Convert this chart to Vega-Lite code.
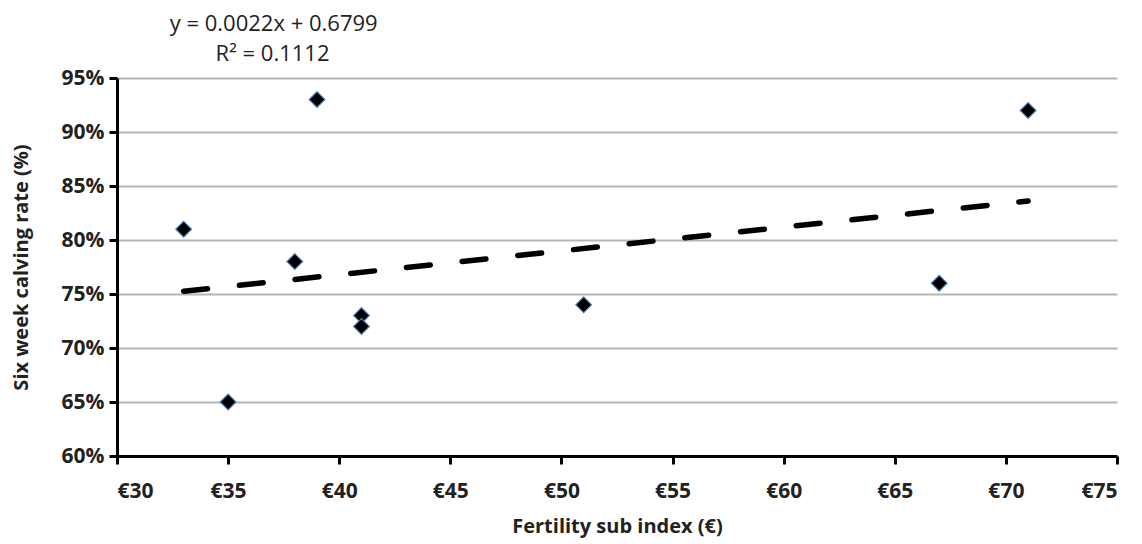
{
  "$schema": "https://vega.github.io/schema/vega-lite/v6.json",
  "width": 1000,
  "height": 378,
  "autosize": "none",
  "padding": {"left": 117, "top": 78, "right": 25, "bottom": 88},
  "background": "white",
  "config": {
    "view": {"stroke": null},
    "font": "Open Sans",
    "axis": {
      "labelFont": "Open Sans",
      "titleFont": "Open Sans",
      "labelFontWeight": "bold",
      "titleFontWeight": "bold",
      "labelFontSize": 21,
      "titleFontSize": 20,
      "labelColor": "#222",
      "titleColor": "#222",
      "domainColor": "black",
      "domainWidth": 3,
      "tickColor": "black",
      "tickWidth": 3,
      "tickSize": 8
    }
  },
  "datasets": {
    "points": [
      {"index": 33, "rate": 0.81},
      {"index": 35, "rate": 0.65},
      {"index": 38, "rate": 0.78},
      {"index": 39, "rate": 0.93},
      {"index": 41, "rate": 0.73},
      {"index": 41, "rate": 0.72},
      {"index": 51, "rate": 0.74},
      {"index": 67, "rate": 0.76},
      {"index": 71, "rate": 0.92}
    ],
    "trend": [
      {"index": 33, "rate": 0.7525},
      {"index": 71, "rate": 0.8361}
    ],
    "labels": [
      {"index": 37.05, "rate": 1.0, "text": "y = 0.0022x + 0.6799"},
      {"index": 37.0, "rate": 0.9725, "text": "R² = 0.1112"}
    ]
  },
  "layer": [
    {
      "data": {"name": "trend"},
      "mark": {"type": "line", "color": "black", "strokeWidth": 5.5, "strokeDash": [24, 32], "strokeCap": "round"},
      "encoding": {
        "x": {"field": "index", "type": "quantitative",
              "scale": {"domain": [30, 75], "nice": false, "zero": false},
              "axis": {"title": "Fertility sub index (€)", "values": [30,35,40,45,50,55,60,65,70,75],
                       "labelExpr": "'€' + datum.value", "grid": false, "labelPadding": 16, "titlePadding": 15}},
        "y": {"field": "rate", "type": "quantitative",
              "scale": {"domain": [0.6, 0.95], "nice": false, "zero": false},
              "axis": {"title": "Six week calving rate (%)", "format": ".0%",
                       "values": [0.6,0.65,0.7,0.75,0.8,0.85,0.9,0.95],
                       "grid": true, "gridColor": "#b5b5b5", "gridWidth": 2, "labelPadding": 5, "titlePadding": 30}}
      }
    },
    {
      "data": {"name": "points"},
      "mark": {"type": "point", "shape": "diamond", "filled": true, "color": "black", "stroke": "#4f81bd", "strokeWidth": 1.2, "size": 250, "opacity": 1},
      "encoding": {
        "x": {"field": "index", "type": "quantitative"},
        "y": {"field": "rate", "type": "quantitative"}
      }
    },
    {
      "data": {"name": "labels"},
      "mark": {"type": "text", "font": "Open Sans", "fontSize": 22, "color": "#222", "align": "center", "baseline": "middle"},
      "encoding": {
        "x": {"field": "index", "type": "quantitative"},
        "y": {"field": "rate", "type": "quantitative"},
        "text": {"field": "text"}
      }
    }
  ]
}
